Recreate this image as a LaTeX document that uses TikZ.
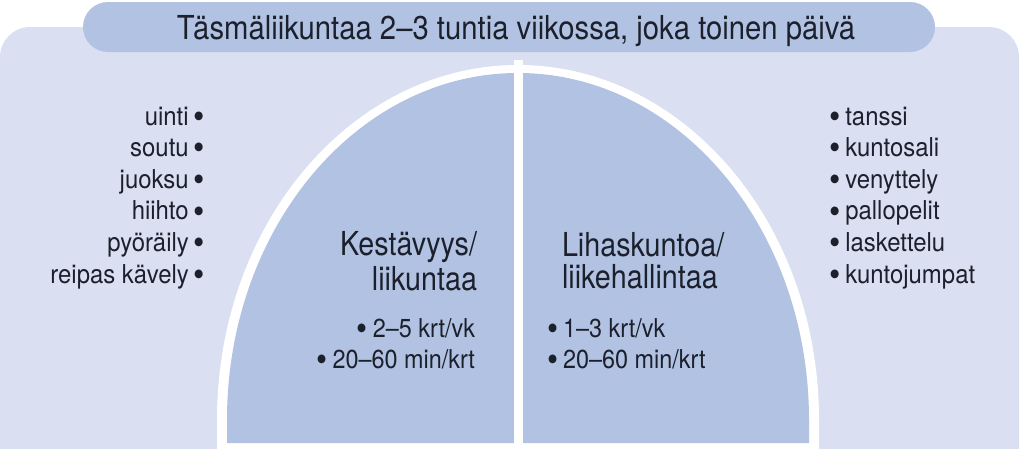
\documentclass[tikz,border=0pt]{standalone}
\usepackage{fontspec}
\setmainfont{TeX Gyre Heros}[FakeStretch=0.9]
\newfontfamily\titlefam{TeX Gyre Heros}[FakeStretch=0.887]
\newfontfamily\headfam{TeX Gyre Heros}[FakeStretch=0.87]
\newfontfamily\itemfam{TeX Gyre Heros}[FakeStretch=0.92]
\newfontfamily\domefam{TeX Gyre Heros}[FakeStretch=0.9]
\newcommand\bul{\smash{\raisebox{-3.2pt}{\scalebox{1.35}{•}}}}
\newcommand\bsp{\hspace{5pt}}
\definecolor{bgc}{RGB}{218,224,241}
\definecolor{domec}{RGB}{177,194,226}
\definecolor{txtc}{RGB}{28,32,44}
\begin{document}
\begin{tikzpicture}[x=1pt,y=1pt,
  every node/.style={inner sep=0pt, outer sep=0pt, text=txtc},
  titletext/.style={font=\titlefam\fontsize{33}{36}\selectfont, anchor=base},
  headtext/.style={font=\headfam\fontsize{33}{35}\selectfont},
  itemtext/.style={font=\itemfam\fontsize{26}{28}\selectfont},
  dometext/.style={font=\domefam\fontsize{26}{28}\selectfont}]
\useasboundingbox (0,0) rectangle (1023,-448);
\clip (0,0) rectangle (1023,-448);
% background panel
\fill[bgc, rounded corners=30] (0,-27) rectangle (1019,-500);
% title pill
\fill[domec, rounded corners=25] (83,-2) rectangle (935,-52);
\node[titletext] (title) at (516,-39) {Täsmäliikuntaa 2–3 tuntia viikossa, joka toinen päivä};
% dome
\fill[white] (217,-460) -- (217,-420) arc[start angle=180, end angle=0, x radius=301, y radius=355] -- (819,-460) -- cycle;
\fill[domec] (227,-443) -- (227,-420) arc[start angle=180, end angle=0, x radius=291, y radius=347] -- (809,-443) -- cycle;
\fill[white] (514,-60) rectangle (523,-460);
% left list
\foreach \t [count=\i] in {uinti, soutu, juoksu, hiihto, pyöräily, reipas kävely}
  \node[itemtext, anchor=base east] (l\i) at (205,{-125-31.6*(\i-1)}) {\t\bsp\bul};
% right list
\foreach \t [count=\i] in {tanssi, kuntosali, venyttely, pallopelit, laskettelu, kuntojumpat}
  \node[itemtext, anchor=base west] (r\i) at (829,{-125-31.6*(\i-1)}) {\bul\bsp\t};
% dome texts left
\node[headtext, anchor=base east] (k1) at (477,-255) {Kestävyys/};
\node[headtext, anchor=base east] (k2) at (477,-290) {liikuntaa};
\node[dometext, anchor=base east] (k3) at (475,-337) {\bul\bsp2–5 krt/vk};
\node[dometext, anchor=base east] (k4) at (475,-368) {\bul\bsp20–60 min/krt};
% dome texts right
\node[headtext, anchor=base west] (m1) at (562,-256) {Lihaskuntoa/};
\node[headtext, anchor=base west] (m2) at (562,-288) {liikehallintaa};
\node[dometext, anchor=base west] (m3) at (547,-337) {\bul\bsp1–3 krt/vk};
\node[dometext, anchor=base west] (m4) at (547,-368) {\bul\bsp20–60 min/krt};
\end{tikzpicture}
\end{document}
